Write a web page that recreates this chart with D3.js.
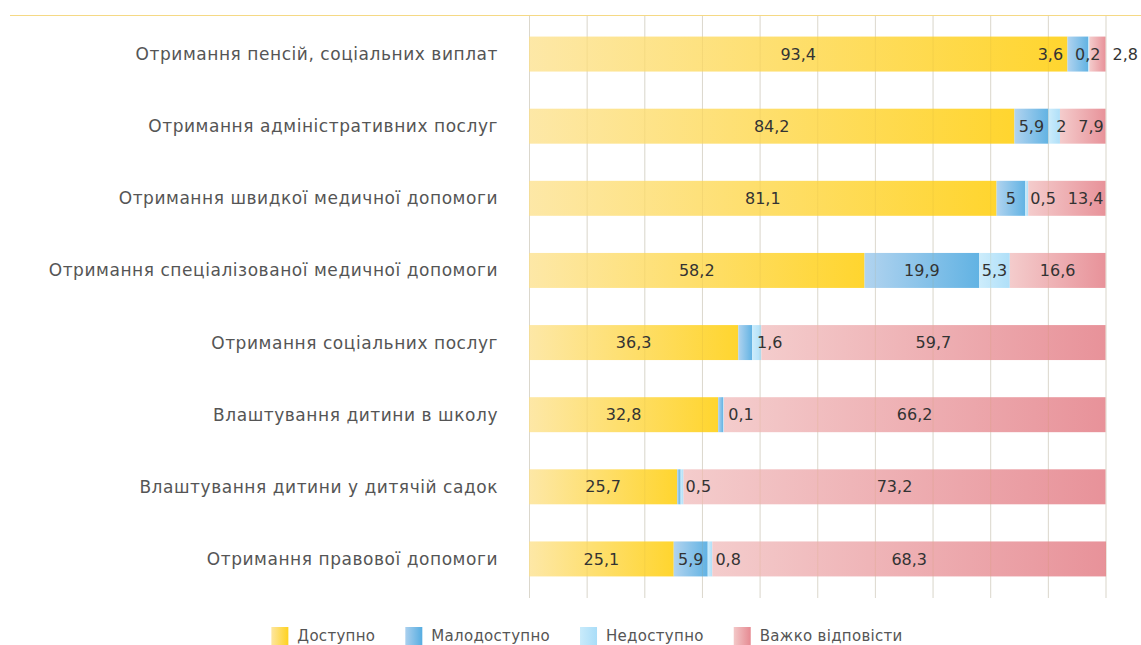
<!DOCTYPE html>
<html lang="uk">
<head>
<meta charset="utf-8">
<title>Доступність послуг</title>
<script src="https://cdn.jsdelivr.net/npm/d3@7"></script>
<style>
  html, body { margin: 0; padding: 0; background: #fff; }
  svg { display: block; }
  .cat { font-family: "DejaVu Sans", sans-serif; font-size: 17px; letter-spacing: 0.55px; fill: #555; }
  .val { font-family: "DejaVu Sans", sans-serif; font-size: 16px; fill: #333; }
  .leg { font-family: "DejaVu Sans", sans-serif; font-size: 15px; letter-spacing: 0.3px; fill: #555; }
</style>
</head>
<body>
<svg id="chart" width="1141" height="645"></svg>
<script>
// Services and the share (%) of answers in each accessibility group
const categories = [
  "Отримання пенсій, соціальних виплат",
  "Отримання адміністративних послуг",
  "Отримання швидкої медичної допомоги",
  "Отримання спеціалізованої медичної допомоги",
  "Отримання соціальних послуг",
  "Влаштування дитини в школу",
  "Влаштування дитини у дитячій садок",
  "Отримання правової допомоги"
];
const seriesNames = ["Доступно", "Малодоступно", "Недоступно", "Важко відповісти"];
const accessible  = [93.4, 84.2, 81.1, 58.2, 36.3, 32.8, 25.7, 25.1];
const limited     = [3.6, 5.9, 5, 19.9, 2.4, 0.9, 0.6, 5.9];
const unavailable = [0.2, 2, 0.5, 5.3, 1.6, 0.1, 0.5, 0.8];
const hardToSay   = [2.8, 7.9, 13.4, 16.6, 59.7, 66.2, 73.2, 68.3];
// "Малодоступно" segments that carry no value label (row indexes)
const unlabelledLimited = [4, 5, 6];

const series = [accessible, limited, unavailable, hardToSay];

// gradient stops per series: light at the left edge, saturated at the right
const palette = [
  ["#fde6a0", "#ffd21f"],
  ["#abd0ee", "#56ade1"],
  ["#c9ebfb", "#a9ddf8"],
  ["#f3c8c8", "#e68a92"]
];

const W = 1141, H = 645;
const svg = d3.select("#chart");

const x = d3.scaleLinear().domain([0, 100]).range([529, 1105.5]);
const y = d3.scaleBand().domain(categories).range([18, 595])
  .paddingInner(0.515).paddingOuter(0.2575);

// gradients
const defs = svg.append("defs");
palette.forEach((p, i) => {
  const g = defs.append("linearGradient").attr("id", "grad" + i)
    .attr("x1", "0%").attr("x2", "100%").attr("y1", "0%").attr("y2", "0%");
  g.append("stop").attr("offset", "0%").attr("stop-color", p[0]);
  g.append("stop").attr("offset", "100%").attr("stop-color", p[1]);
});

// top rule
svg.append("line")
  .attr("x1", 10).attr("x2", W).attr("y1", 15.5).attr("y2", 15.5)
  .attr("stroke", "#f5d985").attr("stroke-width", 1);

// vertical grid
const gridTop = 16, gridBottom = 598;
svg.append("g").attr("class", "grid")
  .attr("transform", `translate(0,${gridBottom})`)
  .call(d3.axisBottom(x).tickValues(d3.range(0, 101, 10)).tickSize(-(gridBottom - gridTop)).tickFormat(""))
  .call(g => g.select(".domain").remove())
  .call(g => g.selectAll(".tick line").attr("stroke", "#d4d4d4").attr("stroke-width", 1));

// stacked rows
const rows = categories.map((c, r) => {
  let acc = 0;
  const segs = series.map((s, k) => {
    const seg = { row: r, key: k, v: s[r], x0: acc, x1: acc + s[r] };
    acc += s[r];
    return seg;
  });
  return { cat: c, segs };
});

const barG = svg.append("g");
rows.forEach(row => {
  barG.selectAll(null).data(row.segs).enter().append("rect")
    .attr("x", d => x(d.x0))
    .attr("y", y(row.cat))
    .attr("width", d => Math.max(0, x(d.x1) - x(d.x0)))
    .attr("height", y.bandwidth())
    .attr("fill", d => `url(#grad${d.key})`)
    .attr("opacity", 0.93);
});

// grid lines faintly visible through the bars
svg.select(".grid").raise().selectAll(".tick line").attr("stroke-opacity", 0.75);
barG.raise();
svg.append("g")
  .attr("transform", `translate(0,${gridBottom})`)
  .call(d3.axisBottom(x).tickValues(d3.range(0, 101, 10)).tickSize(-(gridBottom - gridTop)).tickFormat(""))
  .call(g => g.select(".domain").remove())
  .call(g => g.selectAll(".tick line").attr("stroke", "#c8a84a").attr("stroke-opacity", 0.12));

// category labels
svg.append("g").selectAll("text").data(categories).enter().append("text")
  .attr("class", "cat")
  .attr("x", 498)
  .attr("y", d => y(d) + y.bandwidth() / 2)
  .attr("dy", "0.35em")
  .attr("text-anchor", "end")
  .text(d => d);

// value labels, with a simple left-to-right dodge for narrow segments
const fmt = v => String(v).replace(".", ",");
const gap = 12, rightLimit = W - 3;
const labelG = svg.append("g");
rows.forEach(row => {
  const cy = y(row.cat) + y.bandwidth() / 2;
  const items = row.segs
    .filter(d => !(d.key === 1 && unlabelledLimited.includes(d.row)))
    .map(d => {
      const t = labelG.append("text").attr("class", "val").attr("y", cy).attr("dy", "0.35em").text(fmt(d.v));
      const w = t.node().getComputedTextLength();
      const sx0 = x(d.x0), sx1 = x(d.x1);
      let left = (w + 4 <= sx1 - sx0) ? (sx0 + sx1) / 2 - w / 2 : sx0 + 5;
      return { t, w, left };
    });
  for (let i = 1; i < items.length; i++) {
    const minLeft = items[i - 1].left + items[i - 1].w + gap;
    if (items[i].left < minLeft) items[i].left = minLeft;
  }
  for (let i = items.length - 1; i >= 0; i--) {
    const maxRight = i === items.length - 1 ? rightLimit : items[i + 1].left - gap;
    if (items[i].left + items[i].w > maxRight) items[i].left = maxRight - items[i].w;
  }
  items.forEach(it => it.t.attr("x", it.left));
});

// legend
const legend = svg.append("g");
let lx = 0;
const legItems = seriesNames.map((n, i) => {
  const g = legend.append("g");
  g.append("rect").attr("x", 0).attr("y", -9).attr("width", 17).attr("height", 18)
    .attr("fill", `url(#grad${i})`);
  const t = g.append("text").attr("class", "leg").attr("x", 26).attr("y", 0).attr("dy", "0.35em").text(n);
  const w = 26 + t.node().getComputedTextLength();
  g.attr("transform", `translate(${lx},0)`);
  lx += w + 30;
  return g;
});
const legW = lx - 30;
legend.attr("transform", `translate(${(276 + 898) / 2 - legW / 2},636)`);
</script>
</body>
</html>
